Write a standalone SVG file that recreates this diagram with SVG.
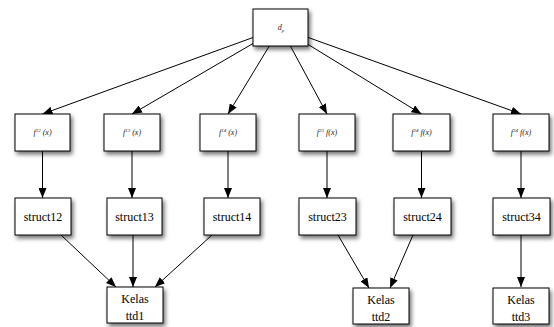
<svg xmlns="http://www.w3.org/2000/svg" width="554" height="327" viewBox="0 0 554 327">
<defs>
<filter id="sh" x="-20%" y="-20%" width="150%" height="160%">
<feDropShadow dx="2" dy="3" stdDeviation="2" flood-color="#000" flood-opacity="0.55"/>
</filter>
<marker id="ah" markerWidth="10" markerHeight="8" refX="10" refY="4" orient="auto" markerUnits="userSpaceOnUse">
<path d="M0,0 L10,4 L0,8 Z" fill="#000"/>
</marker>
<style>
.box{fill:#fff;stroke:#000;stroke-width:1;filter:url(#sh)}
.lbl{font-family:"Liberation Serif","Times New Roman",serif;font-size:12px;fill:#000;text-anchor:middle}
.tiny{font-family:"Liberation Serif","Times New Roman",serif;font-size:8px;fill:#222;text-anchor:middle;font-style:italic}
.sup{font-size:5px}
.edge{stroke:#000;stroke-width:1;fill:none;marker-end:url(#ah)}
</style>
</defs>
<g id="edges">
<line class="edge" x1="253" y1="37.5" x2="42.5" y2="114"/>
<line class="edge" x1="253" y1="43.5" x2="132" y2="114"/>
<line class="edge" x1="269.3" y1="46" x2="228" y2="114"/>
<line class="edge" x1="290.4" y1="46" x2="327" y2="114"/>
<line class="edge" x1="308" y1="44.4" x2="421.5" y2="114"/>
<line class="edge" x1="308" y1="37.4" x2="521" y2="114"/>
<line class="edge" x1="42.5" y1="151" x2="42.5" y2="198"/>
<line class="edge" x1="132" y1="151" x2="132" y2="198"/>
<line class="edge" x1="228" y1="151" x2="228" y2="198"/>
<line class="edge" x1="327" y1="151" x2="327" y2="198"/>
<line class="edge" x1="421.5" y1="151" x2="421.5" y2="198"/>
<line class="edge" x1="521" y1="151" x2="521" y2="198"/>
<line class="edge" x1="61" y1="235" x2="116" y2="287"/>
<line class="edge" x1="133" y1="235" x2="133" y2="287"/>
<line class="edge" x1="212" y1="235" x2="155" y2="287"/>
<line class="edge" x1="338" y1="235" x2="369" y2="288"/>
<line class="edge" x1="413" y1="235" x2="390" y2="288"/>
<line class="edge" x1="521" y1="235" x2="521" y2="287"/>
</g>
<g id="top"><rect class="box" x="253" y="9" width="55" height="37"/><text class="tiny" x="281" y="30">d<tspan class="sup" dy="2">p</tspan></text></g>
<g id="f12"><rect class="box" x="15" y="114" width="55" height="37"/><text class="tiny" x="42.5" y="135">f<tspan class="sup" dy="-3">12</tspan><tspan dy="3"> (x)</tspan></text></g>
<g id="f13"><rect class="box" x="104" y="114" width="56" height="37"/><text class="tiny" x="132" y="135">f<tspan class="sup" dy="-3">13</tspan><tspan dy="3"> (x)</tspan></text></g>
<g id="f14"><rect class="box" x="200" y="114" width="56" height="37"/><text class="tiny" x="228" y="135">f<tspan class="sup" dy="-3">14</tspan><tspan dy="3"> (x)</tspan></text></g>
<g id="f23"><rect class="box" x="299" y="114" width="56" height="37"/><text class="tiny" x="327" y="135">f<tspan class="sup" dy="-3">23</tspan><tspan dy="3"> f(x)</tspan></text></g>
<g id="f24"><rect class="box" x="393" y="114" width="57" height="37"/><text class="tiny" x="421.5" y="135">f<tspan class="sup" dy="-3">24</tspan><tspan dy="3"> f(x)</tspan></text></g>
<g id="f34"><rect class="box" x="493" y="114" width="56" height="37"/><text class="tiny" x="521" y="135">f<tspan class="sup" dy="-3">34</tspan><tspan dy="3"> f(x)</tspan></text></g>
<g id="struct12"><rect class="box" x="15" y="198" width="56" height="37"/><text class="lbl" x="43" y="221">struct12</text></g>
<g id="struct13"><rect class="box" x="107" y="198" width="55" height="37"/><text class="lbl" x="134.5" y="221">struct13</text></g>
<g id="struct14"><rect class="box" x="204" y="198" width="56" height="37"/><text class="lbl" x="232" y="221">struct14</text></g>
<g id="struct23"><rect class="box" x="299" y="198" width="57" height="37"/><text class="lbl" x="327.5" y="221">struct23</text></g>
<g id="struct24"><rect class="box" x="394" y="198" width="57" height="37"/><text class="lbl" x="422.5" y="221">struct24</text></g>
<g id="struct34"><rect class="box" x="493" y="198" width="57" height="37"/><text class="lbl" x="521.5" y="221">struct34</text></g>
<g id="ttd1"><rect class="box" x="107" y="287" width="56" height="36"/><text class="lbl" x="135" y="303">Kelas</text><text class="lbl" x="135" y="320">ttd1</text></g>
<g id="ttd2"><rect class="box" x="353" y="288" width="56" height="36"/><text class="lbl" x="381" y="304">Kelas</text><text class="lbl" x="381" y="321">ttd2</text></g>
<g id="ttd3"><rect class="box" x="493" y="288" width="56" height="36"/><text class="lbl" x="521" y="304">Kelas</text><text class="lbl" x="521" y="321">ttd3</text></g>
</svg>
